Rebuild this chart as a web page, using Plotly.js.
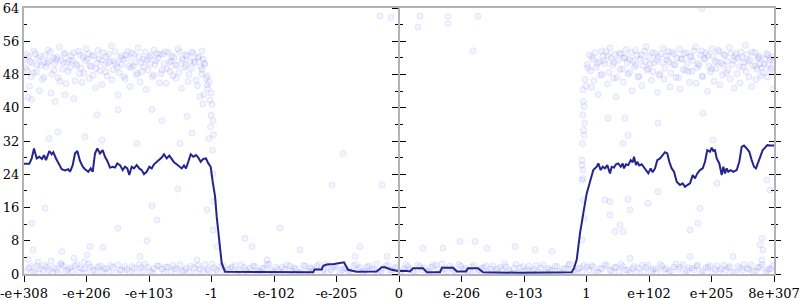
<!DOCTYPE html>
<html><head><meta charset="utf-8">
<script src="https://cdn.plot.ly/plotly-3.0.1.min.js"></script>
<style>html,body{margin:0;padding:0;background:#fff}#chart{width:800px;height:300px}</style>
</head><body><div id="chart"></div>
<script>
// x tick labels (one per equal-width interval)
const tickLabels = ["-e+308","-e+206","-e+103","-1","-e-102","-e-205","0","e-206","e-103","1","e+102","e+205","8e+307"];

// running-average line (x in axis units 0..750, y value)
const lineX = [0,5.3,7.7,10,12.7,15.3,18,20,22,25.3,27.7,29.3,32,35.3,37.7,41,44.3,46,48.7,51,53.3,56,58.7,61,64.3,66.7,68.7,71,73.3,76,78.7,81,83.3,86,88.7,91,93.3,96,98.7,101,103.3,105.3,107.7,110,112.7,115.3,117.7,120,122.7,125.3,127.7,130,132.7,135.3,137.7,140,142.7,145.3,147.7,150,152.7,155.3,157.7,160,162,164.3,166.7,169.3,172,174.3,176.7,179.3,182,184.3,186.7,188.7,191,192.7,194.3,196,197.7,201,230,260,289,290.7,297.7,299.3,302.7,310,314,320,324,332.7,352.7,357.7,361,367.7,372.7,376,381,386,389,399,403,416,418,429,433,442,444,454,459,496,547.7,550,552.7,556,559.3,562.7,566,569.3,572.7,574.3,576.7,578.7,581,583.3,586,587.7,590,592,594.3,596.7,598.7,600,602,604.3,606.7,608.7,610,612,613.3,615.3,617.7,619.3,622,624.3,626.7,628.7,631,633.3,636,638.7,641,643.3,645.3,647.7,650,652.7,656,658.7,661,663.3,666,668.7,671,673.3,676,678.7,681,683.3,686,687.7,689.3,691,692.7,695.3,697.7,699.3,701,702.7,704.3,706.7,709.3,712.7,715.3,717.7,720,722.7,725.3,727.7,730,732,734.3,736,738.7,741,743.3,746,750];
const lineY = [26.5,26.5,27.8,30.2,27.8,28.2,27.7,28.6,27.4,29.6,28.8,29.3,27.8,26.4,25.2,24.9,25.2,24.6,26.2,29.0,29.6,27.2,25.8,25.2,24.6,25.4,24.6,29.0,30.2,29.0,29.8,28.2,27.2,25.6,25.8,25.6,26.6,26.2,25.0,25.8,25.4,23.8,25.8,25.4,26.2,25.4,25.0,24.0,24.6,25.8,25.4,26.4,27.0,27.4,28.0,28.8,27.8,28.5,27.7,26.9,26.4,25.8,25.4,26.1,25.4,27.0,28.8,28.2,28.6,28.0,27.0,27.7,27.8,26.6,25.8,22.2,18.8,13.8,9.8,5.8,2.6,0.55,0.5,0.4,0.4,1.1,1.1,2.0,2.3,2.4,2.6,2.8,1.0,0.55,0.6,1.6,1.6,1.0,0.8,0.7,0.8,0.6,1.4,1.4,0.4,0.4,1.5,1.5,0.6,0.6,1.4,1.4,0.4,0.3,0.4,1.4,3.4,9.8,14.6,19.4,22.2,25.0,25.8,26.6,25.0,25.8,25.4,26.2,24.2,25.8,25.6,26.4,26.6,25.8,26.6,25.4,26.4,26.2,27.4,26.9,28.2,26.2,27.0,26.1,26.4,25.8,25.0,24.2,25.4,24.5,25.4,27.4,27.8,28.6,29.3,29.0,27.0,25.4,24.6,22.2,21.4,21.8,21.0,21.4,21.8,23.8,23.0,24.2,25.0,25.4,27.0,29.8,29.4,30.4,29.6,29.8,27.8,26.6,23.8,25.8,24.2,25.4,24.6,25.0,24.6,25.0,27.0,30.6,30.9,30.2,29.4,27.4,25.8,25.4,27.0,28.2,29.8,30.4,31.0,30.9,30.9];

// upper-left cloud
const cloudLX = [0.5,3,4.5,7,8,11,12.5,14,17,18.5, 21,22,25,26.5,28,31,33,34,37,38.5, 41,43,44,47,48.5,51,53,54.5,57,59, 60,63,64.5,67,69,70,73,75,76,79, 80.5,83,85,86,89,91,92,95,96.5,99, 101,102,105,107,108,111,112.5,115,117,118, 121,123,124,127,128.5,131,133,134,137,139, 140,143,144.5,147,149,150,153,155,156,159, 160.5,163,165,166,169,171,172,175,176.5,179, 181,182,184,186,187,186.5,185,183,180,178,
 1.5,2.5,5.5,6,9,10,13,15.5,16,19.5, 20,23.5,24,27,29.5,30,32,35.5,36,39.5, 40,42,45.5,46,49.5,50,52,55.5,56,58, 61.5,62,65.5,66,68,71.5,72,74,77.5,78, 81.5,82,84,87.5,88,90,93.5,94,97.5,98, 100,103.5,104,106,109.5,110,113.5,114,116,119.5, 120,122,125.5,126,129.5,130,132,135.5,136,138, 141.5,142,145.5,146,148,151.5,152,154,157.5,158, 161.5,162,164,167.5,168,170,173.5,174,177.5,178, 180,183.5,185,187,188,189,189.5,188.5,189,190];
const cloudLY = [51.5,49,52.3,47.5,50.8,53,48.6,51.9,50.2,46.8, 52.6,49.8,51.2,53.4,48.1,50.6,52.1,47.2,51.4,49.3, 53.1,50.9,48.8,52.5,51.3,46.5,50.1,53.6,49.5,52.2, 48.3,51.7,53,49.9,47.8,52.4,50.7,51.8,48.9,53.3, 50.3,47.6,52.8,51.1,49.2,53.5,50.5,48.4,52,51.6, 46.9,52.7,50,49.6,53.2,51,47.9,52.3,50.8,48.7, 53.4,51.5,49.1,52.6,47.4,50.4,53,51.9,48.2,52.9, 50.6,49.4,53.3,51.2,47.7,52.1,50.2,48.5,53.5,51.4, 49.7,52.5,48,51.1,53.1,50.9,46.6,52.2,49.9,51.7, 50.5,47.1,44.6,41.8,38.2,35.4,32.6,45.5,43.2,49.2,
 49.6,52.8,45.2,51.1,48.4,53.7,50.3,44.1,52.4,51, 47.3,50.7,53.9,43.5,52,49,51.6,54.6,46.4,50.9, 52.9,45.8,51.4,49.7,53.2,42.2,50.5,48.2,52.7,46.1, 51.3,54.2,47,50.1,52.6,44.8,49.4,53.8,51.5,45.6, 48.6,52.3,50.8,54.9,46.7,51.2,49.8,43.1,52.5,50.4, 47.5,53.6,51.9,45.1,50,52.8,48.3,54.4,46.2,51.7, 49.9,44.4,52.2,50.6,47.9,53.9,51.3,46,52.9,49.1, 53.5,45.9,51,48.8,52.4,50.3,47.1,54.1,44.7,51.8, 50.2,52.7,46.3,49.5,53.4,51.1,45.3,52.1,48.1,53.7, 50.7,47.7,46.2,43.5,40.8,36.9,33.5,29.8,24.1,17.5];

// upper-right cloud
const cloudRX = [563,565,566.5,569,571,572,575,576.5,579,581, 582,585,587,588.5,591,593,594,597,598.5,601, 603,604,607,609,610.5,613,615,616,619,620.5, 623,625,626,629,631,632.5,635,637,638,641, 642.5,645,647,648,651,653,654.5,657,659,660, 663,664.5,667,669,670,673,675,676.5,679,681, 682,685,686.5,689,691,692,695,697,698.5,701, 703,704,707,708.5,711,713,714,717,719,720.5, 723,725,726,729,730.5,733,735,736,739,741, 742.5,745,747,748,749.5,746,744,740,737,734,
 559,559.5,560,559,560.5,559.5,560,558.5,561,562, 564,567.5,568,570,573.5,574,577.5,578,580,583.5, 584,586,589.5,590,592,595.5,596,599.5,600,602, 605.5,606,608,611.5,612,614,617.5,618,621.5,622, 624,627.5,628,630,633.5,634,636,639.5,640,643.5, 644,646,649.5,650,652,655.5,656,658,661.5,662, 665.5,666,668,671.5,672,674,677.5,678,680,683.5, 684,687.5,688,690,693.5,694,696,699.5,700,702, 705.5,706,709.5,710,712,715.5,716,718,721.5,722, 724,727.5,728,731.5,732,734.5,738,743.5,746.5,749];
const cloudRY = [50.4,52.7,48.9,51.6,53.2,49.7,51.1,47.9,52.4,50.6, 53.5,48.5,51.9,50.2,52.8,47.3,51.4,53,49.3,52.1, 50.8,48.1,53.3,51.2,49.8,52.6,47.6,51.7,50.1,53.6, 49,52.3,50.5,48.7,53.1,51.5,47.8,52.9,50.9,49.5, 52.5,51,48.3,53.4,50.3,52,47.2,51.8,49.2,53, 50.7,48.8,52.2,51.3,53.7,49.6,50.2,52.7,47.5,51.6, 53.2,50,48.6,52.4,51.1,49.4,53.5,50.8,47.9,52.6, 51.2,49.1,53.1,50.4,52.3,48.2,51.9,53.4,49.8,50.9, 52.8,47.4,51.5,50.1,53.3,49.3,52.1,50.6,48.4,51.7, 53,50.3,49.5,52.2,51.4,48.9,52.7,50.5,47.7,51.8,
 44.3,41.5,40.3,38.3,36.3,34.6,33.4,31.4,46.8,45.2, 49.6,44.9,52.3,46.5,50.7,43.2,53.6,48,51.3,45.7, 52.5,54.4,47.1,50.9,42.6,53.1,49.2,46.2,52,54, 48.5,51.6,44.1,53.8,50.3,47.4,52.7,45.3,51.1,54.7, 49.4,46.6,53.3,50.8,43.7,52.2,48.1,54.3,46.9,51.5, 53.5,45,50.4,52.9,47.3,54.1,44.5,51.7,49,53.2, 46.1,52.4,48.8,54.6,45.9,50.6,53.7,47.6,51.9,44, 52.6,49.3,54.2,46.4,51,53.9,45.5,50.2,52.8,48.4, 54.5,47,51.4,44.7,53,49.9,46,52.1,55,48.7, 51.2,45.1,53.4,50,46.8,52.4,49.6,47.4,51.6,44.5];

// bottom band
const bandX = [2,7,11,16,21,25,30,34,39,44, 48,53,57,62,66,71,76,80,85,89, 94,98,103,108,112,117,121,126,130,135, 140,144,149,153,158,162,167,172,176,181, 185,190,194,199,204,208,213,217,222,226, 231,236,240,245,249,254,258,263,268,272, 277,281,286,290,295,300,304,309,313,318, 322,327,332,336,341,345,350,354,359,364, 368,373,377,382,386,391,396,400,405,409, 414,418,423,428,432,437,441,446,450,455, 460,464,469,473,478,482,487,492,496,501, 505,510,514,519,524,528,533,537,542,546, 551,556,560,565,569,574,578,583,588,592, 597,601,606,610,615,620,624,629,633,638, 642,647,652,656,661,665,670,674,679,684, 688,693,697,702,706,711,716,720,725,729, 734,738,743,747,4,14,27,37,50,60,
 5,9,13.5,19,23,28,32.5,37,42,46, 51,55,60,64.5,69,74,78,82.5,87,92, 96,101,105.5,110,115,119,124,128.5,133,138, 142,147,151,156,160.5,165,170,174,179,183.5, 188,192,197,201.5,206,211,215,220,224,229, 233.5,238,243,247,252,256.5,261,266,270,275, 279.5,284,288,293,297.5,302,307,311,316,320, 325,329.5,334,339,343,348,352.5,357,362,366, 371,375.5,380,384,389,393.5,398,403,407,412, 416.5,421,426,430,435,439.5,444,448,453,457.5, 462,467,471,476,480.5,485,490,494,499,503.5, 508,512,517,521.5,526,531,535,540,544.5,549, 554,558,563,567.5,572,576,581,586,590.5,595, 599,604,608.5,613,618,622,627,631.5,636,640, 645,650,654.5,659,663,668,672.5,677,682,686, 691,695.5,700,704,709,714,718.5,723,727,732, 736,741.5,745,749];
const bandY = [0.6,1.8,0.3,1.2,2.1,0.9,1.5,0.4,1.9,1.1, 0.7,2.3,1.4,0.2,1.7,0.8,2,1.3,0.5,1.6, 2.2,0.9,1.1,1.8,0.3,1.5,2.4,0.6,1.3,1.9, 0.4,1.6,2.1,1,0.7,1.4,1.9,0.3,1.2,2.3, 0.8,1.5,0.5,2,1.1,1.7,0.2,2.2,0.9,1.4, 1.8,0.6,1.3,2.4,0.4,1,1.6,2.1,0.7,1.2, 0.3,1.9,1.5,0.8,2.2,1.1,0.5,1.7,2,0.9, 1.3,0.2,2.3,1.6,0.7,1.9,1,0.4,1.4,2.1, 0.9,1.7,0.5,2.2,1.2,0.3,1.8,1.5,0.6,2, 1.1,2.4,0.8,1.4,0.2,1.9,1.3,0.6,2.1,1, 1.6,0.4,2,1.2,0.9,1.7,0.3,2.3,1.5,0.7, 1.9,1.1,0.5,2.2,1.4,0.8,1.8,0.2,1.3,2.4, 0.6,1.5,2.1,0.9,1.7,0.4,1.2,2,0.7,1.6, 2.3,1,0.3,1.8,1.4,0.6,2.2,1.1,0.5,1.9, 1.3,0.8,2.4,1.6,0.2,1.5,1,2.1,0.7,1.7, 0.4,2,1.2,0.9,1.8,0.3,1.4,2.3,1.1,0.6, 1.6,2.2,0.8,1.3,3.5,2.8,3.1,2.6,3.8,2.9,
 1.4,0.5,2,0.8,1.6,0.3,1.1,2.2,0.7,1.5, 1.9,0.4,1.2,2.4,0.9,1.7,0.6,1.3,2.1,0.2, 1,1.8,0.5,1.4,2.3,0.8,1.6,0.3,2,1.2, 1.7,0.6,1.3,2.2,0.9,0.4,1.5,2.1,0.7,1.1, 2.4,1,1.8,0.5,1.3,2,0.8,1.6,0.3,1.9, 0.6,1.4,2.2,0.9,1.7,0.2,1.2,2,1.5,0.4, 2.1,0.7,1.3,1.8,0.5,2.3,1,1.6,0.3,1.4, 0.8,2,1.1,0.4,1.7,1.3,2.4,0.6,1.9,0.9, 1.5,0.3,1.2,1.8,0.7,2.1,1,0.5,1.6,2.2, 0.4,1.3,1.9,0.8,2.3,1.1,0.6,1.7,0.2,1.4, 2,1.2,0.5,1.6,2.4,0.9,1.4,0.3,1.8,1.1, 0.7,2.1,1.5,0.4,1,1.9,0.6,1.3,2.2,0.8, 1.2,0.5,1.7,2,0.3,1.4,2.3,0.9,1.6,0.6, 1.8,0.9,1.3,0.4,2.1,1.6,0.7,1.2,2.4,1, 0.5,1.7,1.1,2.2,0.8,1.4,1.9,0.3,1.5,2, 1.1,0.6,2.1,1.5,0.4,1.8,0.9,1.3,2.2,0.7, 1.6,0.3,1.2,1.9];

// sparse outliers
const sparseX = [21,7.7,66,79,94,123,133,128,154,9,38,63,116,173,183,189,193, 256,221,228,308,358,336,319,243,276,331,363, 436,451,419,463,491,511,528,399, 558,559,559,560,558,558,559,558, 581,586,604,606,586,596,599,591,624,634,676,674,666,693,738,736,739,738,606,666,709,746,743, 584,601,604,634,679,689,599,678, 356,367,396,424,424,394,454,449, 7.7,4,31,34,73,61,94,128,138,163,168,78,156,113,25,176,179,41];
const sparseY = [15.8,12.2,6.6,6.4,11,8,13,16.4,20.4,5.8,5.4,4.6,4.2,3.4,15.4,10.6,6.6, 11,8.6,6.6,21.4,21.4,6.6,29,3.4,5.8,4.2,4.2, 7.8,7.8,6.2,6.2,6.6,5.8,5.4,6.2, 26.2,23,17.8,13.4,8.2,27.4,25,22.6, 17.8,17.4,18,15.4,14.2,11.8,10.2,10.2,17,19.8,15.8,12.2,10.6,21.8,8.6,7,5.8,3.4,3.8,4.2,4.2,20.2,22.6, 37.5,37.5,33.4,36.3,38.7,32.2,31.4,63.9, 62.1,61.7,62.1,62,60.2,59.4,62,53.7, 42,42.5,41.5,34.2,38.3,33,39.5,39.6,36.9,37.9,33.9,32.2,31.4,31.4,32.6,42.7,40.9,43.1];

const ptsX = [].concat(cloudLX, cloudRX, bandX, sparseX);
const ptsY = [].concat(cloudLY, cloudRY, bandY, sparseY);

const SERIF = "DejaVu Serif, serif";
const GRAY = "#b3b3b3";
const tickvals = tickLabels.map((_, i) => i * 62.5);

const traces = [
  {x: ptsX, y: ptsY, type: "scatter", mode: "markers", hoverinfo: "skip", showlegend: false,
   marker: {symbol: "circle", size: 6, color: "rgba(100,100,255,0.07)", line: {color: "rgba(90,90,255,0.14)", width: 1}}},
  {x: lineX, y: lineY, type: "scatter", mode: "lines", showlegend: false,
   line: {color: "#24248e", width: 2}}
];

const yBase = {range: [0, 64], tickmode: "linear", tick0: 0, dtick: 8, showgrid: false, zeroline: false,
  showline: true, linecolor: GRAY, linewidth: 2, tickcolor: "#000", ticklen: 6, tickwidth: 1, fixedrange: true};

const layout = {
  width: 800, height: 300, margin: {l: 24, r: 26, t: 8, b: 26},
  paper_bgcolor: "#fff", plot_bgcolor: "#fff", showlegend: false,
  font: {family: SERIF, size: 13, color: "#000"},
  xaxis: {range: [0, 750], tickmode: "array", tickvals: tickvals, ticktext: tickLabels,
    showgrid: false, zeroline: false, showline: true, mirror: true, linecolor: GRAY, linewidth: 2,
    ticks: "outside", ticklen: 6, tickcolor: "#000", tickwidth: 1, layer: "below traces",
    tickfont: {family: SERIF, size: 13, color: "#000"}},
  yaxis: Object.assign({}, yBase, {ticks: "inside", side: "left",
    minor: {dtick: 4, ticks: "inside", ticklen: 3, tickcolor: "#000"},
    tickfont: {family: SERIF, size: 13, color: "#000"}}),
  yaxis2: Object.assign({}, yBase, {overlaying: "y", anchor: "free", position: 0.5, side: "left", ticks: "outside", showticklabels: false,
    minor: {dtick: 4, ticks: "outside", ticklen: 3, tickcolor: "#000"}}),
  yaxis3: Object.assign({}, yBase, {overlaying: "y", anchor: "free", position: 0.5, side: "left", ticks: "inside", showticklabels: false,
    minor: {dtick: 4, ticks: "inside", ticklen: 3, tickcolor: "#000"}}),
  yaxis4: Object.assign({}, yBase, {overlaying: "y", anchor: "x", side: "right", ticks: "inside", showticklabels: false,
    ticklen: 5, minor: {dtick: 4, ticks: "inside", ticklen: 3, tickcolor: "#000"}}),
  yaxis5: Object.assign({}, yBase, {overlaying: "y", anchor: "x", side: "right", ticks: "outside", showticklabels: false,
    ticklen: 5, minor: {dtick: 4, ticks: "outside", ticklen: 2, tickcolor: "#000"}})
};

// empty traces so that the overlay axes are drawn
["y2","y3","y4","y5"].forEach(ax => traces.unshift({x: [], y: [], yaxis: ax, type: "scatter", mode: "markers", showlegend: false, hoverinfo: "skip"}));

Plotly.newPlot("chart", traces, layout, {staticPlot: true, displayModeBar: false});
</script></body></html>
